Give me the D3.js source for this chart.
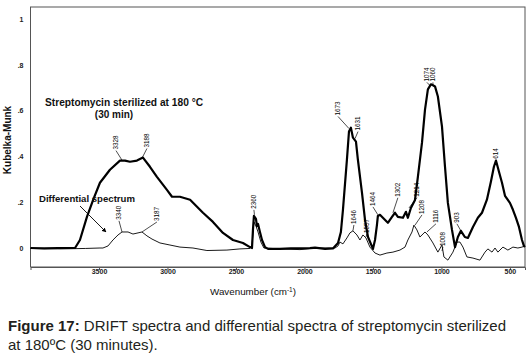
<!DOCTYPE html>
<html><head><meta charset="utf-8">
<script src="https://cdn.jsdelivr.net/npm/d3@7"></script>
<style>body{margin:0;background:#fff;}svg{display:block;font-family:"Liberation Sans",Arial,sans-serif;}</style>
</head><body>
<svg id="c" width="531" height="360"></svg>
<script>
// ---- data ----
const mainWavenumber = [4000,3900,3800,3700,3675,3639,3588,3540,3493,3420,3347,3310,3274,3223,3179,3128,3077,3004,2967,2909,2835,2741,2668,2595,2522,2449,2398,2383,2376,2369,2354,2347,2339,2325,2310,2288,2266,2179,2100,2033,1960,1923,1850,1792,1755,1734,1719,1690,1675,1661,1646,1624,1610,1580,1558,1536,1500,1485,1471,1464,1449,1413,1391,1361,1339,1318,1281,1259,1245,1223,1193,1172,1142,1120,1099,1077,1062,1047,1026,996,974,953,923,901,880,858,829,807,770,734,704,668,639,617,602,580,558,536,500,478,456,434,412,398,390];
const mainKM = [0.0,-0.002,0.0,0.0,0.0,0.035,0.136,0.215,0.285,0.342,0.382,0.382,0.377,0.382,0.395,0.355,0.311,0.254,0.224,0.224,0.211,0.154,0.114,0.066,0.035,0.022,0.004,0.0,0.079,0.14,0.127,0.096,0.105,0.07,0.035,0.004,-0.004,-0.004,-0.002,-0.002,0.0,0.002,-0.004,-0.002,0.022,0.07,0.167,0.386,0.509,0.526,0.482,0.465,0.386,0.241,0.123,0.048,-0.004,0.035,0.1,0.14,0.145,0.123,0.11,0.136,0.154,0.136,0.132,0.158,0.132,0.175,0.21,0.311,0.46,0.605,0.693,0.715,0.711,0.706,0.662,0.53,0.355,0.197,0.079,0.004,0.048,0.075,0.048,0.044,0.092,0.132,0.154,0.211,0.289,0.355,0.382,0.333,0.285,0.228,0.197,0.167,0.132,0.092,0.035,0.009,0.004];
const diffWavenumber = [4000,3785,3600,3493,3471,3434,3398,3361,3332,3288,3252,3215,3186,3150,3113,3055,2982,2909,2814,2712,2566,2471,2398,2383,2369,2354,2339,2318,2296,2179,2033,1887,1777,1755,1741,1719,1690,1668,1646,1617,1595,1573,1551,1522,1485,1449,1398,1354,1303,1266,1245,1215,1201,1179,1157,1120,1099,1062,1026,996,982,953,916,887,865,843,814,770,719,682,661,631,609,588,551,515,478,442,412,390];
const diffKM = [-0.002,-0.004,-0.002,0.0,0.0,0.009,0.035,0.057,0.07,0.07,0.061,0.066,0.07,0.053,0.039,0.022,0.013,0.004,0.0,-0.011,-0.009,-0.004,-0.002,0.013,0.114,0.096,0.07,0.026,0.0,-0.004,-0.007,0.0,0.0,0.009,0.026,0.018,0.044,0.066,0.075,0.057,0.035,0.057,0.044,0.004,-0.022,-0.031,-0.022,-0.018,-0.009,0.004,0.035,0.07,0.1,0.079,0.048,0.07,0.057,0.022,-0.018,0.013,-0.039,-0.053,-0.018,0.026,0.026,0.004,-0.039,-0.044,-0.053,-0.018,-0.004,-0.018,0.0,-0.018,0.004,-0.009,0.004,0.0,0.004,0.009];
const xTicks = [3500,3000,2500,2000,1500,1000,500];
const yTicks = [0,0.2,0.4,0.6,0.8,1];
const yTickLabels = ["0",".2",".4",".6",".8","1"];
// peak annotations: label, target wavenumber, target value, label wavenumber, label value
const peakLabels = ["3328","3188","3340","3187","2360","1673","1631","1646","1557","1464","1302","1214","1208","1116","1008","903","1074","1060","614"];
const peakTargetW = [3328,3188,3332,3186,2365,1675,1631,1646,1551,1464,1354,1237,1193,1106,996,858,1084,1062,602];
const peakTargetV = [0.38,0.39,0.07,0.07,0.145,0.522,0.478,0.075,0.048,0.145,0.154,0.175,0.1,0.07,-0.013,0.075,0.71,0.71,0.382];
const peakLabelW = [3376,3150,3354,3077,2369,1755,1609,1639,1544,1500,1318,1179,1142,1040,989,887,1106,1062,602];
const peakLabelV = [0.430,0.439,0.123,0.118,0.171,0.579,0.513,0.105,0.066,0.184,0.224,0.224,0.149,0.11,0.009,0.11,0.728,0.728,0.39];

// ---- chart ----
const svg = d3.select("#c");
const x = d3.scaleLinear().domain([4000, 390]).range([30.5, 525]);
const y = d3.scaleLinear().domain([-0.083, 1.053]).range([267, 7]);

// frame
svg.append("rect").attr("x",30.5).attr("y",7).attr("width",525-30.5).attr("height",267-7)
  .attr("fill","none").attr("stroke","#555").attr("stroke-width",1);

// x axis
const xAxis = d3.axisBottom(x).tickValues(xTicks).tickSize(3).tickFormat(d3.format("d"));
const gx = svg.append("g").attr("transform","translate(0,267)").call(xAxis);
gx.select(".domain").attr("stroke","#555");
gx.selectAll(".tick line").attr("stroke","#555");
gx.selectAll(".tick text").attr("font-size",7).attr("font-weight","bold").attr("fill","#222").attr("dy","0.6em").attr("y",3);

// y axis
const yAxis = d3.axisLeft(y).tickValues(yTicks).tickSize(0).tickPadding(7).tickFormat((d,i)=>yTickLabels[i]);
const gy = svg.append("g").attr("transform","translate(30.5,0)").call(yAxis);
gy.select(".domain").remove();
gy.selectAll(".tick text").attr("font-size",7).attr("font-weight","bold").attr("fill","#222");

// titles
svg.append("text").attr("transform","translate(11,140) rotate(-90)").attr("text-anchor","middle")
  .attr("font-size",10).attr("font-weight","bold").attr("fill","#111").text("Kubelka-Munk");
const xt = svg.append("text").attr("x",253).attr("y",295).attr("text-anchor","middle")
  .attr("font-size",9.8).attr("fill","#111");
xt.append("tspan").text("Wavenumber (cm");
xt.append("tspan").attr("dy",-3.5).attr("font-size",6.5).text("-1");
xt.append("tspan").attr("dy",3.5).text(")");

// curves
const line = d3.line().x(d=>x(d[0])).y(d=>y(d[1]));
const mainData = mainWavenumber.map((w,i)=>[w, mainKM[i]]);
const diffData = diffWavenumber.map((w,i)=>[w, diffKM[i]]);
svg.append("path").datum(diffData).attr("d",line).attr("fill","none").attr("stroke","#000").attr("stroke-width",0.9).attr("stroke-linejoin","round");
svg.append("path").datum(mainData).attr("d",line).attr("fill","none").attr("stroke","#000").attr("stroke-width",2.2).attr("stroke-linejoin","round");

// peak annotations
const ann = svg.append("g");
peakLabels.forEach((lab,i)=>{
  const lx = x(peakLabelW[i]), ly = y(peakLabelV[i]);
  const tx = x(peakTargetW[i]), ty = y(peakTargetV[i]);
  ann.append("line").attr("x1",lx).attr("y1",ly+1).attr("x2",tx).attr("y2",ty)
    .attr("stroke","#000").attr("stroke-width",0.7);
  ann.append("text").attr("transform",`translate(${lx},${ly}) rotate(-90)`)
    .attr("dy","0.35em").attr("font-size",6.3).attr("fill","#000").text(lab);
});

// text annotations
svg.append("text").attr("x",45).attr("y",106).attr("font-size",10.2).attr("font-weight","bold").attr("fill","#111")
  .text("Streptomycin sterilized at 180 °C");
svg.append("text").attr("x",114).attr("y",118).attr("text-anchor","middle").attr("font-size",10).attr("font-weight","bold").attr("fill","#111")
  .text("(30 min)");
svg.append("text").attr("x",39).attr("y",202).attr("font-size",9.6).attr("font-weight","bold").attr("fill","#111")
  .text("Differential spectrum");
svg.append("defs").append("marker").attr("id","ah").attr("viewBox","0 0 10 10").attr("refX",9).attr("refY",5)
  .attr("markerWidth",5).attr("markerHeight",5).attr("orient","auto")
  .append("path").attr("d","M0,0 L10,5 L0,10 z").attr("fill","#000");
svg.append("line").attr("x1",80).attr("y1",206).attr("x2",106).attr("y2",232)
  .attr("stroke","#000").attr("stroke-width",0.9).attr("marker-end","url(#ah)");

// caption
const cap = svg.append("text").attr("x",8).attr("y",331).attr("font-size",15).attr("fill","#231f20");
cap.append("tspan").attr("font-weight","bold").text("Figure 17:");
cap.append("tspan").text(" DRIFT spectra and differential spectra of streptomycin sterilized");
svg.append("text").attr("x",8).attr("y",350).attr("font-size",15).attr("fill","#231f20")
  .text("at 180\u00BAC (30 minutes).");
</script>
</body></html>
